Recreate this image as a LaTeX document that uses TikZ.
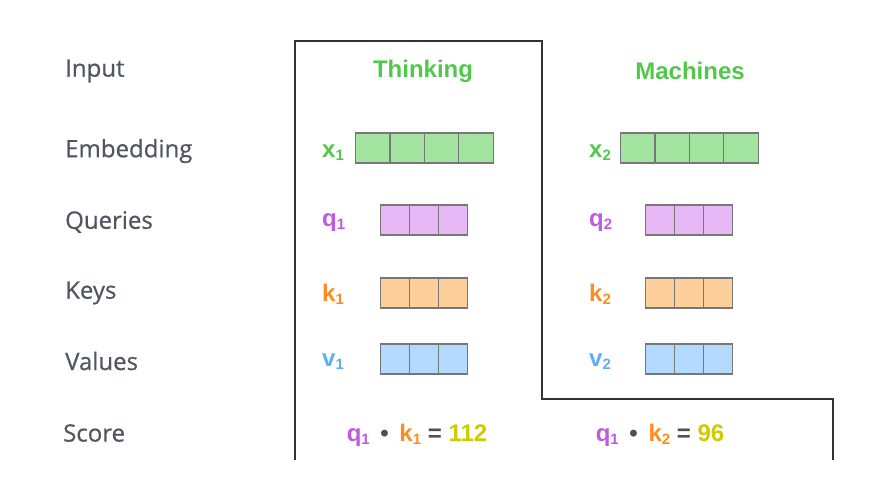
\documentclass[tikz,border=0pt]{standalone}
\usepackage{fontspec}
\setmainfont{Liberation Sans}
\newfontfamily\labelfont[FakeBold=0.6]{Open Sans}
\definecolor{labelgray}{HTML}{505760}
\definecolor{tgreen}{HTML}{52C84A}
\definecolor{embfill}{HTML}{A3E4A0}
\definecolor{qfill}{HTML}{E6B8F5}
\definecolor{qtext}{HTML}{C05AE0}
\definecolor{kfill}{HTML}{FDCF9B}
\definecolor{ktext}{HTML}{FF8C1E}
\definecolor{vfill}{HTML}{B3D9FF}
\definecolor{vtext}{HTML}{5CAEFF}
\definecolor{ytext}{HTML}{CCCC00}
\definecolor{cellgray}{HTML}{777777}
\definecolor{opgray}{HTML}{4A5058}
\definecolor{framegray}{HTML}{333333}
\newcommand\subn[1]{\raisebox{-0.12em}{\fontsize{15}{15}\selectfont #1}}
\begin{document}
\begin{tikzpicture}[x=1pt,y=-1pt,
  rowlabel/.style={font=\labelfont\fontsize{24}{29}\selectfont, text=labelgray, anchor=west, inner sep=0pt},
  word/.style={font=\bfseries\fontsize{24}{29}\selectfont, text=tgreen, inner sep=0pt},
  veclabel/.style={font=\bfseries\fontsize{24}{29}\selectfont, inner sep=0pt, anchor=west},
  cell/.style={draw=cellgray, line width=1.2pt, minimum height=30pt, inner sep=0pt, anchor=west},
  frame/.style={draw=framegray, line width=1.2pt},
  score/.style={font=\bfseries\fontsize{24}{29}\selectfont, inner sep=0pt}]
\useasboundingbox (0,0) rectangle (877,496);
% frame
\coordinate (f1) at (295,460);
\coordinate (f2) at (295,41);
\coordinate (f3) at (542,41);
\coordinate (f4) at (542,399);
\coordinate (f5) at (833,399);
\coordinate (f6) at (833,460);
\draw[frame] (f1) -- (f2) -- (f3) -- (f4) -- (f5) -- (f6);
% row labels
\node[rowlabel] (lin) at (65,71) {Input};
\node[rowlabel] (lemb) at (65,151) {Embedding};
\node[rowlabel] (lq) at (65,222) {Queries};
\node[rowlabel] (lk) at (65,293) {Keys};
\node[rowlabel] (lv) at (65,361) {Values};
\node[rowlabel] (ls) at (63,433) {Score};
% words
\node[word] (w1) at (423,71) {Thinking};
\node[word] (w2) at (690,71) {Machines};
% vector labels
\node[veclabel, text=tgreen] (x1) at (322,153) {x\subn1};
\node[veclabel, text=tgreen] (x2) at (589,153) {x\subn2};
\node[veclabel, text=qtext] (q1) at (322,223) {q\subn1};
\node[veclabel, text=qtext] (q2) at (589,223) {q\subn2};
\node[veclabel, text=ktext] (k1) at (322,294) {k\subn1};
\node[veclabel, text=ktext] (k2) at (589,294) {k\subn2};
\node[veclabel, text=vtext] (v1) at (322,362) {v\subn1};
\node[veclabel, text=vtext] (v2) at (589,362) {v\subn2};
% cells
\foreach \i in {0,...,3}{
  \node[cell, fill=embfill, minimum width=34.4pt] (ea\i) at (355+\i*34.4,148) {};
  \node[cell, fill=embfill, minimum width=34.4pt] (eb\i) at (620+\i*34.4,148) {};
}
\foreach \i in {0,...,2}{
  \node[cell, fill=qfill, minimum width=29pt] (qa\i) at (380+\i*29,220) {};
  \node[cell, fill=qfill, minimum width=29pt] (qb\i) at (645+\i*29,220) {};
  \node[cell, fill=kfill, minimum width=29pt] (ka\i) at (380+\i*29,293) {};
  \node[cell, fill=kfill, minimum width=29pt] (kb\i) at (645+\i*29,293) {};
  \node[cell, fill=vfill, minimum width=29pt] (va\i) at (380+\i*29,359) {};
  \node[cell, fill=vfill, minimum width=29pt] (vb\i) at (645+\i*29,359) {};
}
% scores
\node[score] (s1) at (417,435) {\textcolor{qtext}{q\subn1}\, \textcolor{opgray}{•}\, \textcolor{ktext}{k\subn1} \textcolor{opgray}{=} \textcolor{ytext}{112}};
\node[score] (s2) at (660,435) {\textcolor{qtext}{q\subn1}\, \textcolor{opgray}{•}\, \textcolor{ktext}{k\subn2} \textcolor{opgray}{=} \textcolor{ytext}{96}};
\end{tikzpicture}
\end{document}
